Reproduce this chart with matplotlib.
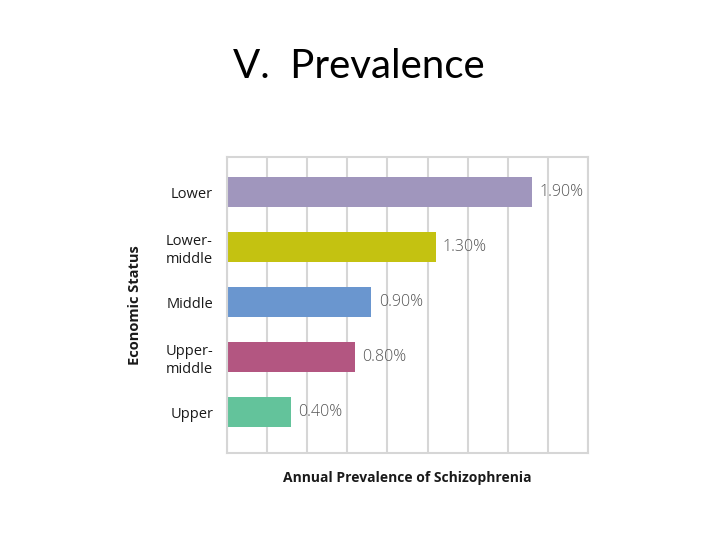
import numpy as np
import matplotlib
matplotlib.use('Agg')
import matplotlib.pyplot as plt

# Chart data
categories = ['Lower', 'Lower-\nmiddle', 'Middle', 'Upper-\nmiddle', 'Upper']
prevalence = [1.90, 1.30, 0.90, 0.80, 0.40]
value_labels = ['1.90%', '1.30%', '0.90%', '0.80%', '0.40%']
bar_colors = ['#a096bd', '#c4c211', '#6a96cf', '#b35681', '#63c39b']

plt.rcParams['font.family'] = ['Open Sans', 'DejaVu Sans']

fig = plt.figure(figsize=(7.2, 5.4), dpi=100)
fig.patch.set_facecolor('white')

# slide title
fig.text(0.499, 0.877, 'V.  Prevalence', ha='center', va='center',
         fontsize=29, family=['Lato', 'DejaVu Sans'], color='black')

ax = fig.add_axes([0.3153, 0.162, 0.5014, 0.5473])

# Lower at the top
ypos = np.arange(len(categories))[::-1]
ax.barh(ypos, prevalence, height=0.545, color=bar_colors, zorder=2)

for y, v, lab in zip(ypos, prevalence, value_labels):
    ax.text(v + 0.045, y, lab, va='center', ha='left', fontsize=11.5,
            color='#555555', fontweight='light', zorder=3)

ax.set_xlim(0, 2.25)
ax.set_ylim(-0.727, 4.636)
ax.set_xticks(np.arange(0, 2.26, 0.25))
ax.set_xticklabels([])
ax.tick_params(axis='x', length=0)
ax.grid(axis='x', color='#d6d6d6', linewidth=1.5, zorder=0)

ax.set_yticks(ypos)
ax.set_yticklabels(categories, fontsize=10.5, color='#1a1a1a', linespacing=1.25)
ax.tick_params(axis='y', length=0, pad=10)
for lbl in ax.get_yticklabels():
    lbl.set_multialignment('left')

for s in ax.spines.values():
    s.set_color('#d6d6d6')
    s.set_linewidth(1.5)

ax.set_ylabel('Economic Status', fontsize=10.5, fontweight='bold', color='#1a1a1a', labelpad=17)
ax.set_xlabel('Annual Prevalence of Schizophrenia', fontsize=10, fontweight='bold',
              color='#1a1a1a', labelpad=10)

plt.savefig('out.png', dpi=100)
